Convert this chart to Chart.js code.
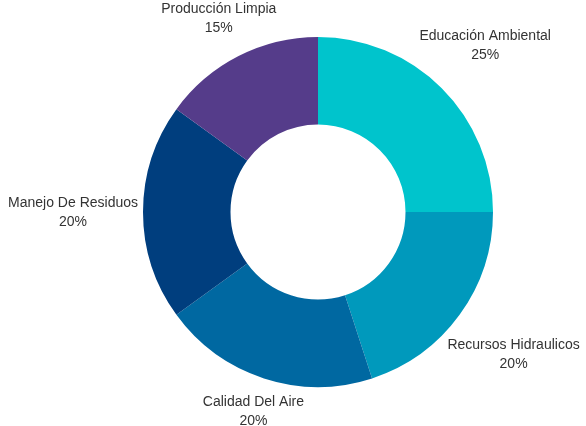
<!DOCTYPE html>
<html>
<head>
<meta charset="utf-8">
<script src="https://cdn.jsdelivr.net/npm/chart.js@4"></script>
<style>
  html, body { margin: 0; padding: 0; background: #fff; }
  #wrap { width: 586px; height: 426px; position: relative; }
</style>
</head>
<body>
<div id="wrap"><canvas id="donut"></canvas></div>
<script>
/* ========= DATA ========= */
const categories = [
  "Educación Ambiental",
  "Recursos Hidraulicos",
  "Calidad Del Aire",
  "Manejo De Residuos",
  "Producción Limpia"
];
const values = [25, 20, 20, 20, 15];
const sliceColors = ["#00C4CC", "#0099BC", "#0068A1", "#003E7E", "#553C8A"];

/* ========= OUTSIDE LABELS ========= */
const outsideLabels = {
  id: "outsideLabels",
  afterDraw(chart) {
    const ctx = chart.ctx;
    const meta = chart.getDatasetMeta(0);
    const total = values.reduce((a, b) => a + b, 0);
    const gap = 5;
    const lineGap = 19;

    ctx.save();
    ctx.font = "14px 'Liberation Sans', Arial, sans-serif";
    ctx.fillStyle = "#333";
    ctx.textAlign = "center";
    ctx.textBaseline = "middle";

    meta.data.forEach((arc, i) => {
      const mid = (arc.startAngle + arc.endAngle) / 2;
      const dx = Math.cos(mid);
      const dy = Math.sin(mid);
      const pct = Math.round(values[i] / total * 100) + "%";
      const w = Math.max(ctx.measureText(categories[i]).width, ctx.measureText(pct).width);
      const h = 28;
      const r = arc.outerRadius + gap + Math.abs(dx) * w / 2 + Math.abs(dy) * h / 2;
      const x = arc.x + dx * r;
      const y = arc.y + dy * r + 1;
      ctx.fillText(categories[i], x, y - lineGap / 2);
      ctx.fillText(pct, x, y + lineGap / 2);
    });
    ctx.restore();
  }
};

new Chart(document.getElementById("donut"), {
  type: "doughnut",
  data: {
    labels: categories,
    datasets: [{
      data: values,
      backgroundColor: sliceColors,
      borderWidth: 0
    }]
  },
  options: {
    responsive: true,
    maintainAspectRatio: false,
    animation: false,
    cutout: "50%",
    layout: { padding: { top: 37, bottom: 39, left: 143, right: 93 } },
    plugins: {
      legend: { display: false },
      tooltip: { enabled: false }
    }
  },
  plugins: [outsideLabels]
});
</script>
</body>
</html>
